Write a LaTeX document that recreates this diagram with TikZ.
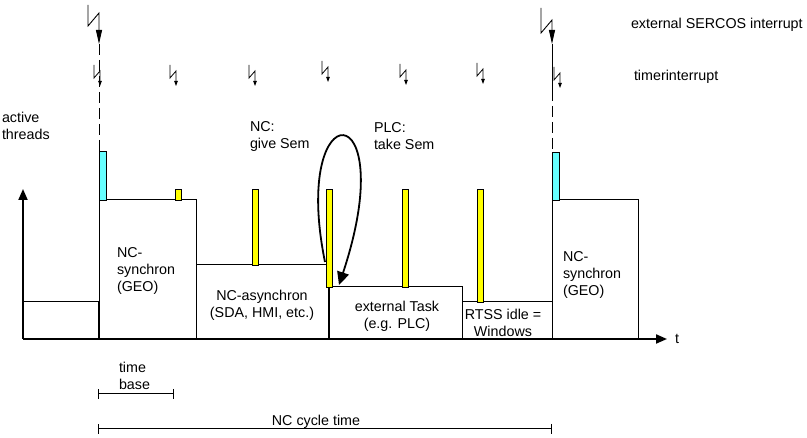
\documentclass[tikz,border=0pt]{standalone}
\usepackage{fontspec}
\setmainfont{Liberation Sans}
\usetikzlibrary{arrows.meta}
\definecolor{cyanbar}{RGB}{102,255,255}
\definecolor{yellowbar}{RGB}{255,255,0}
\begin{document}
\begin{tikzpicture}[x=1pt,y=-1pt,
  lbl/.style={font=\fontsize{14.3}{17}\selectfont, inner sep=0pt, outer sep=0pt},
  thin/.style={line width=1pt},
  boxn/.style={draw=black, line width=1pt, inner sep=0pt, outer sep=0pt, anchor=south west},
  bar/.style={draw=black, line width=0.8pt},
  axis/.style={line width=2pt, -{Triangle[length=11pt,width=9pt]}},
  sbolt/.pic={\draw[line width=0.8pt, -{Triangle[length=5pt,width=3.5pt]}] (0,0) -- (0,13) -- (6,6) -- (6,21);},
  bbolt/.style={line width=0.9pt, -{Triangle[length=14pt,width=6pt]}},
  bracket/.style={line width=1pt, {Bar[width=10pt]}-{Bar[width=10pt]}}
]
\useasboundingbox (0,0) rectangle (807,438);
\fill[white] (0,0) rectangle (807,438);

% boxes
\node[boxn, minimum width=76pt, minimum height=37pt] (idle0) at (23,339) {};
\node[boxn, minimum width=97pt, minimum height=139pt] (sync1) at (99,339) {};
\node[boxn, minimum width=132pt, minimum height=74pt] (async) at (196,339) {};
\node[boxn, minimum width=133pt, minimum height=52pt] (ext) at (329,339) {};
\node[boxn, minimum width=90pt, minimum height=37pt] (rtss) at (462,339) {};
\node[boxn, minimum width=86pt, minimum height=139pt] (sync2) at (552,339) {};

% bars
\filldraw[bar, fill=cyanbar] (99,151) rectangle (106,200);
\filldraw[bar, fill=cyanbar] (552,152) rectangle (559,200);
\filldraw[bar, fill=yellowbar] (175,189) rectangle (181,200);
\filldraw[bar, fill=yellowbar] (252,189) rectangle (258,265);
\filldraw[bar, fill=yellowbar] (326,189) rectangle (332,287);
\filldraw[bar, fill=yellowbar] (402,189) rectangle (408,287);
\filldraw[bar, fill=yellowbar] (477,189) rectangle (483,302);

% axes
\coordinate (origin) at (23,339);
\coordinate (yend) at (23,189);
\coordinate (xend) at (667,339);
\draw[axis] (origin) -- (yend);
\draw[axis] (origin) -- (xend);
\draw[line width=2pt] (99,302) -- (99,339);

% big bolts and cycle lines
\coordinate (b1a) at (99,44);
\coordinate (b1b) at (99,200);
\draw[bbolt] (88,5) -- (88,26) -- (99,13) -- (b1a);
\draw[thin, dash pattern=on 11pt off 5pt] (b1a) -- (b1b);
\coordinate (b2a) at (552,44);
\coordinate (b2m) at (552,90);
\coordinate (b2b) at (552,200);
\draw[bbolt] (541,8) -- (541,33) -- (552,20) -- (b2a);
\draw[thin] (b2a) -- (b2m);
\draw[thin, dash pattern=on 11pt off 5pt] (b2m) -- (b2b);

% small bolts
\pic at (94,65) {sbolt};
\pic at (170,65) {sbolt};
\pic at (249,65) {sbolt};
\pic at (322,61) {sbolt};
\pic at (400,64) {sbolt};
\pic at (477,63) {sbolt};
\pic at (554,67) {sbolt};

% semaphore arrow
\coordinate (give) at (325,262);
\coordinate (take) at (339,285);
\draw[line width=1.8pt, -{Triangle[length=13pt,width=12pt]}] (give) .. controls (290,90) and (403,92) .. (take);

% labels
\node[lbl, anchor=west] (lsercos) at (631,25) {external SERCOS interrupt};
\node[lbl, anchor=west] (ltimer) at (634,77) {timerinterrupt};
\node[lbl, anchor=west, align=left] (lactive) at (2,126) {active\\threads};
\node[lbl, anchor=west, align=left] (lgive) at (250,136) {NC:\\give Sem};
\node[lbl, anchor=west, align=left] (ltake) at (374,136) {PLC:\\take Sem};
\node[lbl, anchor=west, align=left] (lsync1) at (117,271) {NC-\\synchron\\(GEO)};
\node[lbl, anchor=west, align=left] (lsync2) at (563,275) {NC-\\synchron\\(GEO)};
\node[lbl, align=center] (lasync) at (262,305) {NC-asynchron\\(SDA, HMI, etc.)};
\node[lbl, align=center] (lext) at (397,316) {external Task\\(e.g. PLC)};
\node[lbl, align=center] (lrtss) at (503,323) {RTSS idle =\\Windows};
\node[lbl, anchor=west] (lt) at (675,339) {t};
\node[lbl, anchor=west, align=left] (ltb) at (119,376) {time\\base};
\node[lbl] (lcycle) at (316,422) {NC cycle time};

% brackets
\coordinate (tb0) at (98,394);
\coordinate (tb1) at (174,394);
\draw[bracket] (tb0) -- (tb1);
\coordinate (cy0) at (98,429);
\coordinate (cy1) at (552,429);
\draw[bracket] (cy0) -- (cy1);
\end{tikzpicture}
\end{document}
